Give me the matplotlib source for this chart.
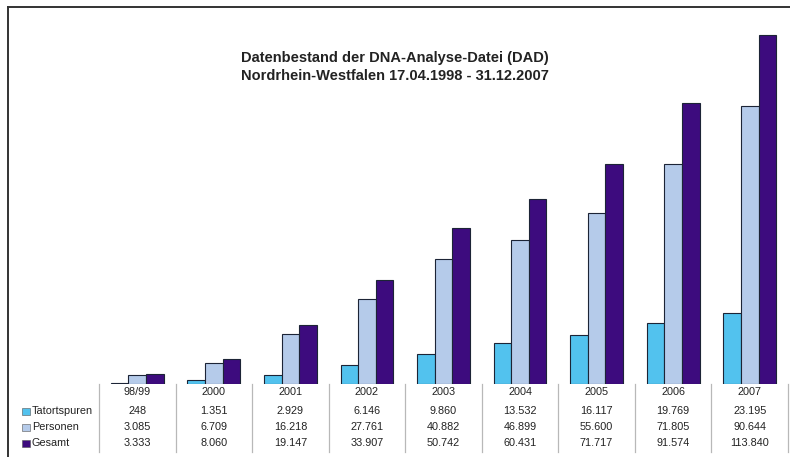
import numpy as np
import matplotlib
matplotlib.use("Agg")
import matplotlib.pyplot as plt
from matplotlib.transforms import blended_transform_factory
from matplotlib.lines import Line2D
from matplotlib.patches import Rectangle

plt.rcParams['font.family'] = ['Liberation Sans', 'DejaVu Sans']

years = ['98/99', '2000', '2001', '2002', '2003', '2004', '2005', '2006', '2007']
tatortspuren = [248, 1351, 2929, 6146, 9860, 13532, 16117, 19769, 23195]
personen = [3085, 6709, 16218, 27761, 40882, 46899, 55600, 71805, 90644]
gesamt = [3333, 8060, 19147, 33907, 50742, 60431, 71717, 91574, 113840]

series = [('Tatortspuren', tatortspuren, '#52c2ee'),
          ('Personen', personen, '#b5cbea'),
          ('Gesamt', gesamt, '#3d0b7e')]

W, H = 790, 457
fig = plt.figure(figsize=(W / 100, H / 100), dpi=100)
fig.patch.set_facecolor('white')

def fx(x):
    return x / W

def fy(y):
    return 1 - y / H

# bar area sits on top of the data table
ax = fig.add_axes([fx(99), fy(384), fx(788) - fx(99), fy(16) - fy(384)])
ax.set_xlim(0, len(years))
ax.set_ylim(0, 120000)
ax.axis('off')

x = np.arange(len(years)) + 0.5
bw = 0.23
for k, (name, vals, col) in enumerate(series):
    ax.bar(x + (k - 1) * bw, vals, width=bw, color=col,
           edgecolor='#1c2436', linewidth=0.8)

# title
fig.text(0.5, fy(58), 'Datenbestand der DNA-Analyse-Datei (DAD)',
         ha='center', va='center', fontsize=10.5, fontweight='bold', color='#222222')
fig.text(0.5, fy(76), 'Nordrhein-Westfalen 17.04.1998 - 31.12.2007',
         ha='center', va='center', fontsize=10.5, fontweight='bold', color='#222222')

# data table below the bars
tr = blended_transform_factory(ax.transData, fig.transFigure)
for i in range(len(years) + 1):
    fig.add_artist(Line2D([i, i], [fy(384), fy(452)], transform=tr,
                          color='#b8b8b8', lw=0.9))

def fmt(v):
    return f'{v:,}'.replace(',', '.')

row_y = [411, 427, 443]
for i, yr in enumerate(years):
    fig.text(x[i], fy(392), yr, transform=tr, ha='center', va='center',
             fontsize=7.8, color='#222222')
    for (name, vals, col), ry in zip(series, row_y):
        fig.text(x[i], fy(ry), fmt(vals[i]), transform=tr, ha='center',
                 va='center', fontsize=7.8, color='#222222')

for (name, vals, col), ry in zip(series, row_y):
    fig.add_artist(Rectangle((fx(22), fy(ry + 3.5)), fx(8), 7 / H,
                             transform=fig.transFigure, facecolor=col,
                             edgecolor='#555555', lw=0.4))
    fig.text(fx(32), fy(ry), name, ha='left', va='center',
             fontsize=7.8, color='#222222')

# frame lines
fig.add_artist(Line2D([fx(8), 1.0], [fy(7), fy(7)], transform=fig.transFigure,
                      color='#333333', lw=1.4))
fig.add_artist(Line2D([fx(8), fx(8)], [fy(7), 0.0], transform=fig.transFigure,
                      color='#333333', lw=1.4))

fig.savefig('out.png', dpi=100)
